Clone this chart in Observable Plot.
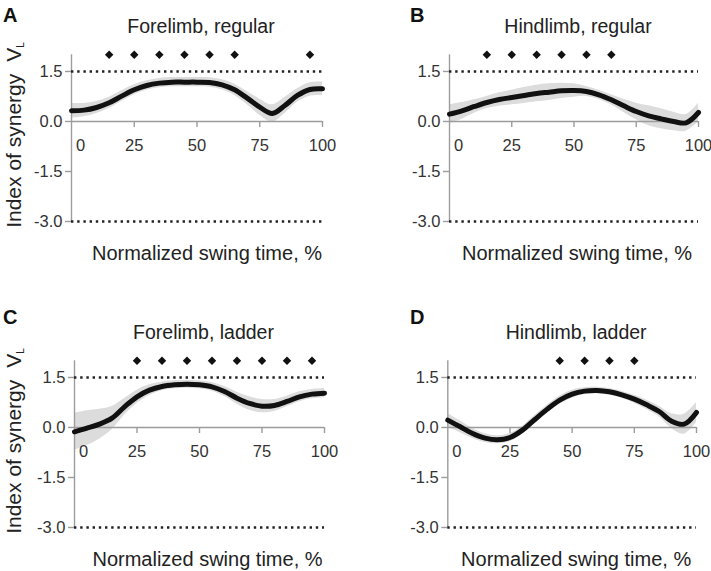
<!DOCTYPE html>
<html><head><meta charset="utf-8">
<script src="https://cdn.jsdelivr.net/npm/d3@7"></script>
<script src="https://cdn.jsdelivr.net/npm/@observablehq/plot@0.6"></script>
<style>
body{margin:0;background:#fff;}
#wrap{position:relative;width:711px;height:571px;overflow:hidden;font-family:"Liberation Sans",Arial,Helvetica,sans-serif;}
#wrap svg{position:absolute;overflow:visible;}
</style></head><body><div id="wrap"></div>
<script>
// normalized swing time, %
const xPct = [0,5,10,15,20,25,30,35,40,45,50,55,60,65,70,75,80,85,90,95,100];
// A: Forelimb, regular
const meanA = [0.32,0.34,0.42,0.56,0.76,0.95,1.08,1.15,1.18,1.18,1.18,1.17,1.10,0.95,0.70,0.43,0.24,0.48,0.78,0.96,0.98];
const sdA   = [0.22,0.20,0.18,0.17,0.16,0.15,0.14,0.14,0.14,0.14,0.14,0.14,0.15,0.17,0.20,0.24,0.26,0.24,0.20,0.20,0.20];
// B: Hindlimb, regular
const meanB = [0.22,0.32,0.45,0.57,0.66,0.72,0.78,0.84,0.88,0.92,0.93,0.90,0.80,0.65,0.47,0.30,0.17,0.08,0.00,-0.04,0.27];
const sdB   = [0.28,0.25,0.20,0.18,0.20,0.22,0.24,0.25,0.25,0.23,0.20,0.15,0.14,0.15,0.20,0.25,0.30,0.30,0.28,0.25,0.28];
// C: Forelimb, ladder
const meanC = [-0.13,-0.02,0.10,0.28,0.62,0.92,1.12,1.23,1.28,1.30,1.28,1.22,1.08,0.88,0.72,0.64,0.66,0.78,0.92,1.00,1.03];
const sdC   = [0.55,0.52,0.45,0.35,0.25,0.20,0.16,0.13,0.12,0.12,0.12,0.13,0.15,0.18,0.20,0.20,0.18,0.16,0.15,0.14,0.14];
// D: Hindlimb, ladder
const meanD = [0.22,0.02,-0.18,-0.32,-0.37,-0.30,-0.08,0.24,0.55,0.82,1.00,1.09,1.11,1.07,0.98,0.85,0.68,0.48,0.19,0.10,0.45];
const sdD   = [0.20,0.18,0.15,0.13,0.12,0.12,0.12,0.12,0.12,0.12,0.12,0.10,0.10,0.10,0.10,0.12,0.14,0.16,0.22,0.30,0.30];
// significance markers (x positions)
const marksA = [15,25,35,45,55,65,95];
const marksB = [15,25,35,45,55,65];
const marksC = [25,35,45,55,65,75,85,95];
const marksD = [45,55,65,75];
// axes
const xTicks = [0,25,50,75,100];
const yTicks = [1.5,0,-1.5,-3];
const dottedLevels = [1.5,-3];
const titles = ["Forelimb, regular","Hindlimb, regular","Forelimb, ladder","Hindlimb, ladder"];
const letters = ["A","B","C","D"];
const xLabel = "Normalized swing time, %";

const panels = [
  {i:0, mean:meanA, sd:sdA, marks:marksA, left:0,   top:0,   width:355, ml:71,   mr:33, ylab:true,  xdx:10},
  {i:1, mean:meanB, sd:sdB, marks:marksB, left:360, top:0,   width:351, ml:89,   mr:13, ylab:false, xdx:3},
  {i:2, mean:meanC, sd:sdC, marks:marksC, left:0,   top:306, width:355, ml:74,   mr:31, ylab:true,  xdx:8},
  {i:3, mean:meanD, sd:sdD, marks:marksD, left:360, top:306, width:351, ml:87.3, mr:15, ylab:false, xdx:4}
];
const font = '"Liberation Sans",Arial,Helvetica,sans-serif';
const gray = "#9c9c9c";
const wrap = document.getElementById("wrap");

for (const p of panels) {
  const data = xPct.map((x,k)=>({x, m:p.mean[k], lo:p.mean[k]-p.sd[k], hi:p.mean[k]+p.sd[k]}));
  const chart = Plot.plot({
    width:p.width, height:265,
    marginLeft:p.ml, marginRight:p.mr, marginTop:54.3, marginBottom:44,
    x:{domain:[0,100], axis:null},
    y:{domain:[-3,2], axis:null},
    style:{fontFamily:font, color:"#222", background:"transparent", overflow:"visible"},
    marks:[
      Plot.areaY(data,{x:"x", y1:"lo", y2:"hi", fill:"#dcdcdc", curve:"catmull-rom"}),
      Plot.ruleX([0],{y1:-3, y2:2, stroke:gray, strokeWidth:1.4}),
      Plot.ruleY([0],{x1:0, x2:100, stroke:gray, strokeWidth:1.4}),
      Plot.ruleX(xTicks.slice(1),{x:d=>d, y1:0, y2:0, insetBottom:-6, stroke:gray, strokeWidth:1.4}),
      Plot.axisY({ticks:yTicks, tickFormat:d=>d.toFixed(1), tickSize:6, tickPadding:3, stroke:gray, strokeWidth:1.4, fill:"#333", fontSize:16.5, label:null}),
      Plot.text(xTicks.slice(1),{x:d=>d, y:0, dy:24, text:d=>String(d), fontSize:16.5, fill:"#333"}),
      Plot.text(xTicks.slice(0,1),{x:d=>d, y:0, dy:24, dx:9, text:d=>String(d), fontSize:16.5, fill:"#333"}),
      Plot.ruleY(dottedLevels,{x1:0, x2:100, stroke:"#222", strokeWidth:2.5, strokeDasharray:"2.4 3.8"}),
      Plot.line(data,{x:"x", y:"m", stroke:"#111", strokeWidth:5, curve:"catmull-rom"}),
      Plot.dot(p.marks,{x:d=>d, frameAnchor:"top", symbol:"diamond2", r:3.8, fill:"#111", stroke:"none"}),
      Plot.text([titles[p.i]],{frameAnchor:"top", lineAnchor:"middle", dy:-28, dx:4, text:d=>d, fontSize:19.5, fill:"#222"}),
      Plot.text([xLabel],{frameAnchor:"bottom", lineAnchor:"middle", dy:32, dx:p.xdx, text:d=>d, fontSize:20, fill:"#222"})
    ]
  });
  const svg = chart.tagName.toLowerCase()==="svg" ? chart : chart.querySelector("svg");
  chart.style.position = "absolute";
  chart.style.left = p.left+"px";
  chart.style.top = p.top+"px";
  const s = d3.select(svg);
  s.append("text").attr("x", p.left===0 ? 3 : 50).attr("y", p.top===0 ? 22 : 18)
    .attr("text-anchor","start")
    .attr("font-family", font).attr("font-weight","bold").attr("font-size",20).attr("fill","#111")
    .text(letters[p.i]);
  if (p.ylab) {
    const t = s.append("text").attr("transform","translate(20.5,135) rotate(-90)")
      .attr("text-anchor","middle").attr("font-family",font).attr("font-size",21).attr("fill","#222");
    t.append("tspan").text("Index of synergy");
    t.append("tspan").attr("dx",12).text("V");
    t.append("tspan").attr("font-size",10).attr("dy",3).text("L");
  }
  wrap.appendChild(chart);
}
</script></body></html>
